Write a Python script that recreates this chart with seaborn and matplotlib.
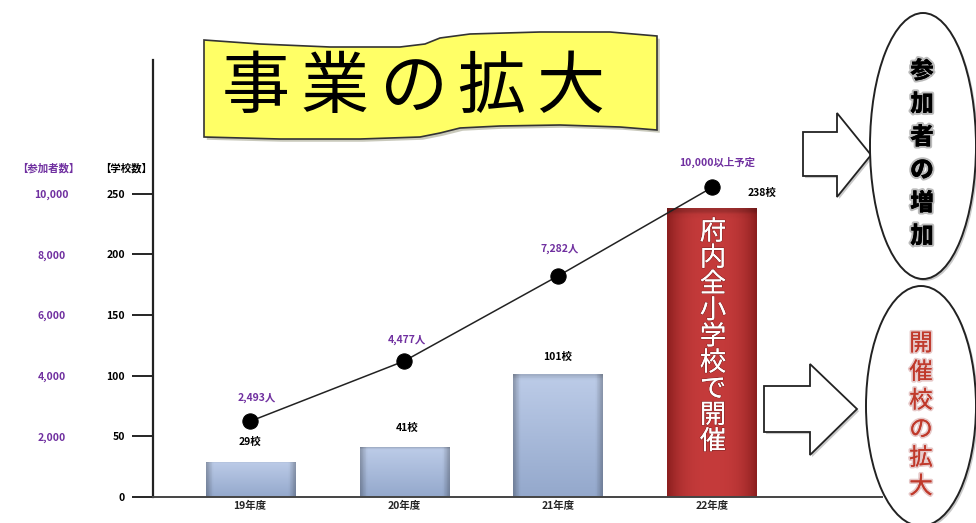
import numpy as np
import pandas as pd
import matplotlib
matplotlib.use("Agg")
import matplotlib.pyplot as plt
import matplotlib.patheffects as pe
from matplotlib.patches import Polygon, Ellipse
import seaborn as sns

# ---------------- data ----------------
years = ["19年度", "20年度", "21年度", "22年度"]
schools = [29, 41, 101, 238]
school_labels = ["29校", "41校", "101校", "238校"]
participants = [2493, 4477, 7282, 10200]
participant_labels = ["2,493人", "4,477人", "7,282人", "10,000以上予定"]
school_ticks = [0, 50, 100, 150, 200, 250]
participant_ticks = [2000, 4000, 6000, 8000, 10000]
participant_tick_labels = ["2,000", "4,000", "6,000", "8,000", "10,000"]
title_text = "事業の拡大"
bar_text = "府内全小学校で開催"
bubble_top = "参加者の増加"
bubble_bottom = "開催校の拡大"

sns.set_theme(style="white")
plt.rcParams["font.family"] = ["Noto Sans CJK JP", "DejaVu Sans"]

W, H = 976, 523
fig = plt.figure(figsize=(W / 100, H / 100), dpi=100)
fig.patch.set_facecolor("white")

PURPLE = "#7030A0"
BLUE = "#A6BBDC"
RED = "#B93434"

ax = fig.add_axes([153 / W, 1 - 497 / H, (882 - 153) / W, (497 - 60) / H])
ax.set_facecolor("none")
df = pd.DataFrame({"year": years, "schools": schools})
sns.barplot(data=df, x="year", y="schools", hue="year",
            palette=[BLUE, BLUE, BLUE, RED], width=0.578, legend=False,
            ax=ax, saturation=1, zorder=2)

# gradient overlays on bars
for i, p in enumerate(ax.patches):
    x0, y0, w, h = p.get_x(), p.get_y(), p.get_width(), p.get_height()
    nx, ny = 60, 60
    xs = np.linspace(-1, 1, nx)
    ys = np.linspace(0, 1, ny)[:, None]
    edge = np.clip((np.abs(xs) - 0.85) / 0.15, 0, 1)[None, :]
    if i < 3:
        top = np.array([0.74, 0.80, 0.91])
        bot = np.array([0.58, 0.66, 0.80])
        img = top * (1 - ys[..., None]) + bot * ys[..., None]
        img = img * (1 - 0.25 * edge[..., None])
        topedge = np.clip((0.04 - ys) / 0.04, 0, 1)
        img = img * (1 - 0.15 * topedge[..., None])
    else:
        center = np.array([0.77, 0.23, 0.23])
        side = np.array([0.55, 0.12, 0.12])
        t = (np.abs(xs) ** 3)[None, :]
        img = center * (1 - t[..., None]) + side * t[..., None]
        img = np.broadcast_to(img, (ny, nx, 3)).copy()
        topedge = np.clip((0.02 - ys) / 0.02, 0, 1)
        img = img * (1 - 0.2 * topedge[..., None])
    im = ax.imshow(np.clip(img, 0, 1), extent=[x0, x0 + w, y0, y0 + h],
                   origin="upper", aspect="auto", zorder=2.5)
    im.set_clip_path(p)
    p.set_edgecolor("none")

ax.set_xlim(-0.63, 4.104)
ax.set_ylim(0, 360)
ax.set_xlabel("")
ax.set_ylabel("")
ax.set_yticks(school_ticks)
ax.set_yticklabels([str(t) for t in school_ticks], fontsize=7.5,
                   fontweight="bold", color="black")
ax.tick_params(axis="y", length=15, width=1.2, color="black", pad=5, left=True)
ax.yaxis.get_major_ticks()[0].tick1line.set_visible(False)
ax.tick_params(axis="x", length=0, pad=3)
ax.set_xticks(range(len(years)))
ax.set_xticklabels(years, fontsize=7.5, fontweight="bold")
for s in ["top", "right"]:
    ax.spines[s].set_visible(False)
ax.spines["left"].set_color("#222222")
ax.spines["left"].set_linewidth(1.6)
ax.spines["bottom"].set_color("#444444")
ax.spines["bottom"].set_linewidth(1.4)

# participants on twin axis
ax2 = ax.twinx()
ax2.set_ylim(0, 360 * 40)
xpos = np.arange(len(years))
sns.lineplot(x=xpos, y=participants, ax=ax2, color="#222222", lw=1.1,
             marker="o", markersize=11, markeredgecolor="black",
             markerfacecolor="black", zorder=5)
ax2.set_xlim(-0.63, 4.104)
ax2.yaxis.tick_left()
ax2.set_yticks(participant_ticks)
ax2.set_yticklabels(participant_tick_labels, fontsize=7.5, fontweight="bold",
                    color=PURPLE)
for lab in ax2.get_yticklabels():
    lab.set_horizontalalignment("center")
ax2.tick_params(axis="y", length=0, pad=73, left=True, right=False,
                labelleft=True, labelright=False)
for s in ax2.spines.values():
    s.set_visible(False)
ax2.set_ylabel("")

# value labels
p_off = [(7, 23), (3, 21), (2, 27), (5, 25)]
for i, (v, lab) in enumerate(zip(participants, participant_labels)):
    ax2.annotate(lab, (xpos[i], v), xytext=p_off[i], textcoords="offset pixels",
                 ha="center", va="center", fontsize=7.5, fontweight="bold",
                 color=PURPLE, zorder=6)
s_off = [(0, 20), (3, 19), (0, 17), (50, 15)]
for i, (v, lab) in enumerate(zip(schools, school_labels)):
    ax.annotate(lab, (i, v), xytext=s_off[i], textcoords="offset pixels",
                ha="center", va="center", fontsize=7.5, fontweight="bold",
                color="black", zorder=6)

# ---------------- decorations (figure pixel overlay) ----------------
ov = fig.add_axes([0, 0, 1, 1])
ov.set_xlim(0, W)
ov.set_ylim(H, 0)
ov.axis("off")
ov.patch.set_alpha(0)

# axis headers
ov.text(48, 168, "【参加者数】", ha="center", va="center", fontsize=7.5,
        fontweight="bold", color=PURPLE)
ov.text(126, 168, "【学校数】", ha="center", va="center", fontsize=7.5,
        fontweight="bold", color="black")

# yellow banner
top_edge = [(204, 40), (260, 44), (330, 47), (400, 47), (425, 44), (440, 38),
            (470, 34), (540, 32), (610, 32), (657, 36)]
bot_edge = [(657, 130), (620, 127), (560, 125), (500, 126), (460, 128),
            (440, 133), (420, 137), (360, 139), (280, 139), (204, 137)]
banner = Polygon(top_edge + bot_edge, closed=True, facecolor="#FFFF66",
                 edgecolor="#333333", lw=1.2, zorder=1,
                 path_effects=[pe.SimplePatchShadow(offset=(2, -2), alpha=0.3),
                               pe.Normal()])
ov.add_patch(banner)
for k, ch in enumerate(title_text):
    ov.text(256 + k * 78.5, 89, ch, ha="center", va="center", fontsize=49,
            color="black", zorder=2)

# arrows
arrow1 = [(803, 132), (837, 132), (837, 113), (871, 155), (837, 197),
          (837, 176), (803, 176)]
arrow2 = [(764, 386), (810, 386), (810, 364), (857, 409), (810, 455),
          (810, 432), (764, 432)]
for pts in (arrow1, arrow2):
    ov.add_patch(Polygon(pts, closed=True, facecolor="white",
                         edgecolor="#222222", lw=1.3, zorder=1,
                         path_effects=[pe.SimplePatchShadow(offset=(1.5, -1.5), alpha=0.3),
                                       pe.Normal()]))

# ellipses
for (cx, cy, w, h) in [(923, 146, 106, 266), (921, 406, 110, 240)]:
    ov.add_patch(Ellipse((cx, cy), w, h, facecolor="white",
                         edgecolor="#222222", lw=1.4, zorder=2,
                         path_effects=[pe.SimplePatchShadow(offset=(1.5, -1.5), alpha=0.3),
                                       pe.Normal()]))

def vtext(x, y0, step, s, **kw):
    for k, ch in enumerate(s):
        ov.text(x, y0 + k * step, ch, ha="center", va="center", **kw)

vtext(922, 71, 33, bubble_top, fontsize=17, fontweight="black", color="black",
      zorder=3, path_effects=[pe.withStroke(linewidth=3, foreground="#bbbbbb"),
                              pe.Normal()])
vtext(921, 344, 28.6, bubble_bottom, fontsize=17, color="#C0392B", zorder=3,
      path_effects=[pe.withStroke(linewidth=2.5, foreground="#e6c8c8"),
                    pe.Normal()])
vtext(713, 232, 26.2, bar_text, fontsize=19, color="white", zorder=3,
      path_effects=[pe.withStroke(linewidth=1.0, foreground="#8a2a2a"),
                    pe.Normal()])

fig.savefig("out.png", dpi=100, facecolor="white")
